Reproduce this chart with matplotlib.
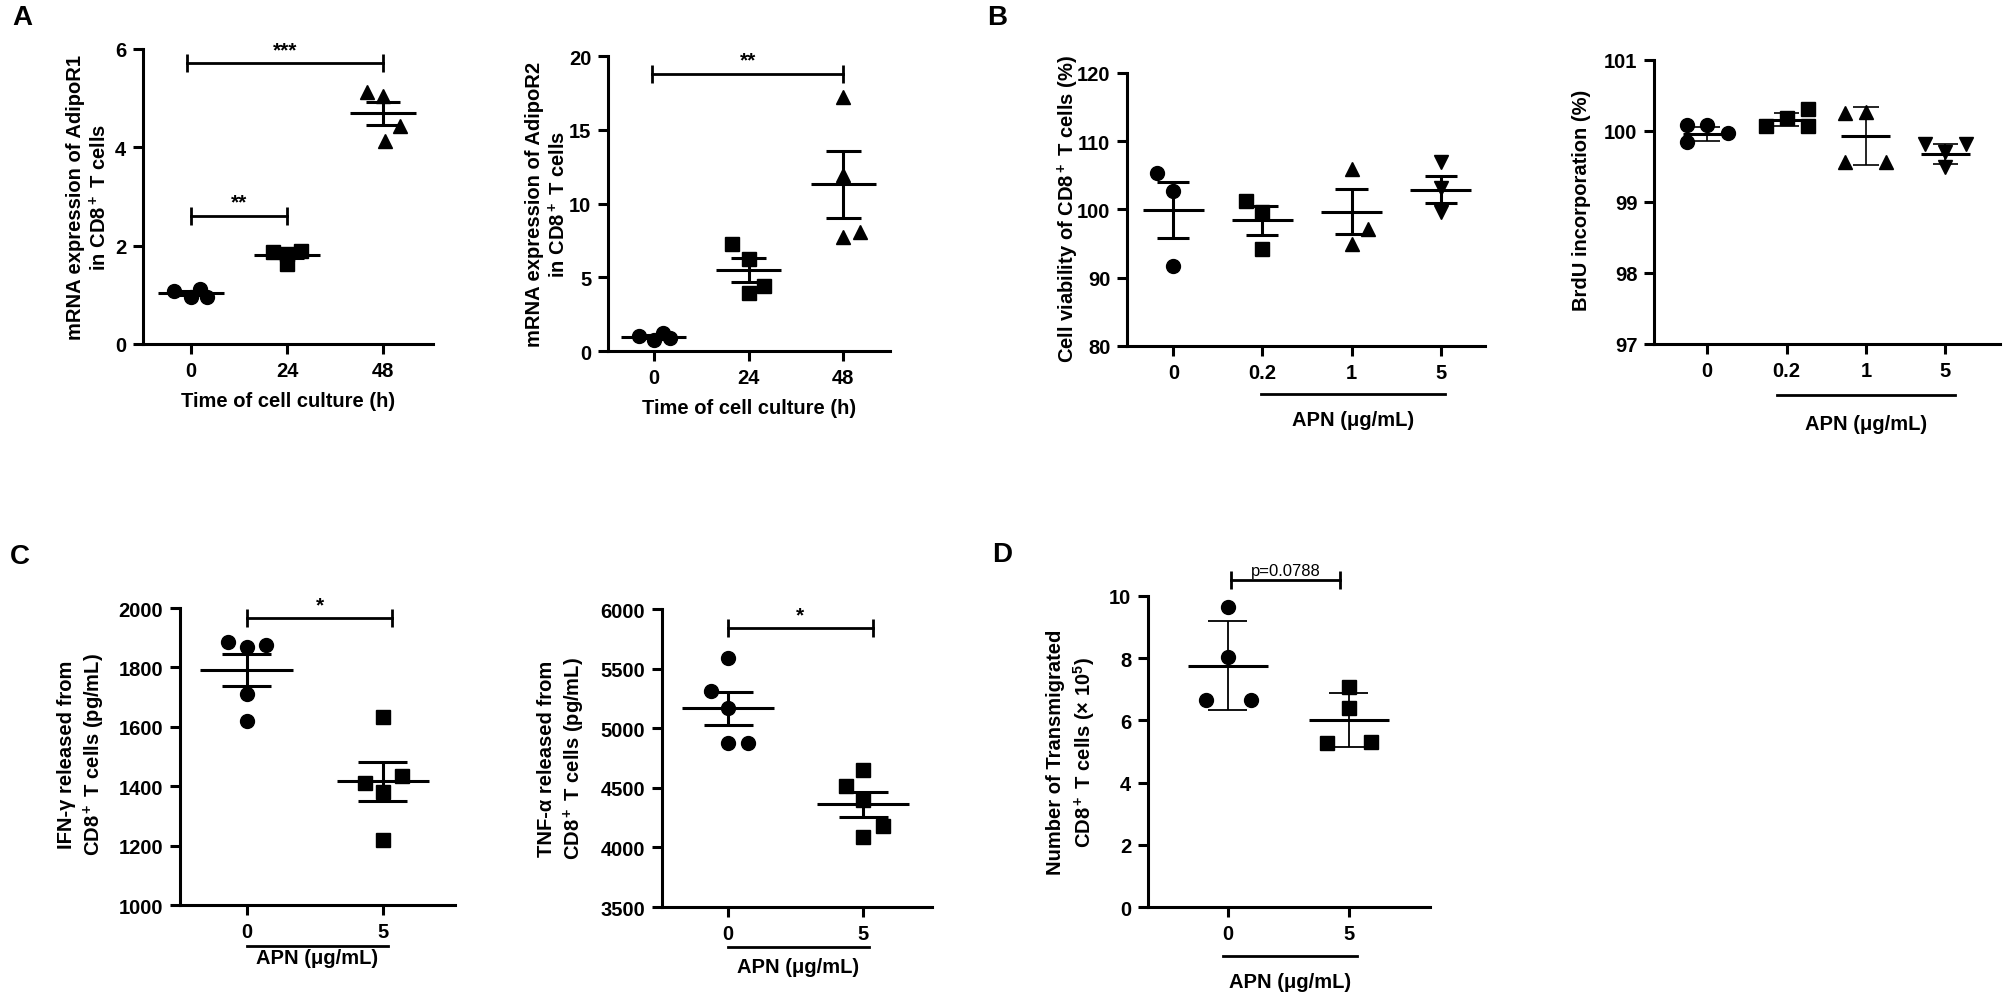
import matplotlib.pyplot as plt
from matplotlib.transforms import blended_transform_factory

plt.rcParams['font.family'] = ['Liberation Sans', 'DejaVu Sans']
plt.rcParams['font.weight'] = 'bold'
plt.rcParams['mathtext.fontset'] = 'custom'
plt.rcParams['mathtext.rm'] = 'Liberation Sans:bold'
plt.rcParams['mathtext.it'] = 'Liberation Sans:italic:bold'
plt.rcParams['mathtext.bf'] = 'Liberation Sans:bold'

# ---- data ----
# A: AdipoR1 / AdipoR2 mRNA over culture time
a_ticks = ['0', '24', '48']
a1_x = [[-0.18, 0, 0.09, 0.17], [-0.15, 0, 0, 0.15], [-0.17, 0, 0.18, 0.02]]
a1_y = [[1.08, 0.95, 1.12, 0.95], [1.88, 1.83, 1.63, 1.90], [5.12, 5.04, 4.44, 4.13]]
a1_mean = [1.03, 1.81, 4.69]
a1_err = [0.04, 0.06, 0.23]

a2_x = [[-0.15, 0, 0.10, 0.17], [-0.17, 0, 0, 0.16], [0, 0, 0, 0.17]]
a2_y = [[1.02, 0.75, 1.24, 0.86], [7.23, 6.26, 3.95, 4.41], [17.2, 11.9, 7.7, 8.1]]
a2_mean = [0.97, 5.5, 11.3]
a2_err = [0.1, 0.8, 2.25]

# B: viability and BrdU with APN doses
b_ticks = ['0', '0.2', '1', '5']
b1_x = [[-0.18, 0, 0], [-0.18, 0, 0], [0, 0.18, 0], [0, 0, 0]]
b1_y = [[105.3, 102.7, 91.7], [101.3, 99.6, 94.2], [105.9, 97.1, 94.9], [106.9, 103.2, 99.6]]
b1_mean = [99.95, 98.4, 99.66, 102.9]
b1_err = [4.15, 2.1, 3.3, 2.0]

b2_x = [[-0.25, -0.25, 0, 0.26], [-0.26, 0, 0.27, 0.27], [-0.26, 0, -0.26, 0.26], [-0.26, 0, 0.26, 0]]
b2_y = [[100.08, 99.85, 100.08, 99.97], [100.07, 100.18, 100.31, 100.07],
        [100.25, 100.26, 99.56, 99.56], [99.81, 99.71, 99.81, 99.49]]
b2_mean = [99.96, 100.16, 99.93, 99.67]
b2_err = [0.10, 0.09, 0.41, 0.14]

# C: cytokine release
c_ticks = ['0', '5']
c1_x = [[-0.14, 0, 0.14, 0, 0], [0, -0.13, 0.14, 0, 0]]
c1_y = [[1887, 1868, 1876, 1711, 1619], [1632, 1411, 1435, 1381, 1219]]
c1_mean = [1792, 1417]
c1_err = [53, 66]

c2_x = [[0, -0.13, 0, 0, 0.15], [0, -0.13, 0, 0.15, 0]]
c2_y = [[5586, 5314, 5169, 4876, 4876], [4649, 4512, 4398, 4177, 4085]]
c2_mean = [5169, 4364]
c2_err = [139, 105]

# D: transmigration
d_x = [[0, 0, -0.18, 0.19], [0, 0, -0.18, 0.18]]
d_y = [[9.65, 8.04, 6.65, 6.65], [7.06, 6.39, 5.26, 5.29]]
d_mean = [7.75, 6.01]
d_err = [1.43, 0.87]

TICK_FS = 14.5
LAB_FS = 14.5


def scatter_panel(ax, xs, ys, means, errs, markers, mean_w=0.34, cap_w=0.18,
                  err_lw=2.2, ms=10):
    for i in range(len(means)):
        ax.plot([i + dx for dx in xs[i]], ys[i], ls='none', marker=markers[i],
                color='black', ms=ms, zorder=3)
        ax.hlines(means[i], i - mean_w, i + mean_w, color='black', lw=2.2, zorder=4)
        lo, hi = means[i] - errs[i], means[i] + errs[i]
        ax.vlines(i, lo, hi, color='black', lw=err_lw, zorder=4)
        ax.hlines([lo, hi], i - cap_w, i + cap_w, color='black', lw=err_lw, zorder=4)


def style_axes(ax, ticks, xlim, ylim, yticks):
    for s in ['top', 'right']:
        ax.spines[s].set_visible(False)
    for s in ['left', 'bottom']:
        ax.spines[s].set_linewidth(2.2)
    ax.set_xlim(*xlim)
    ax.set_ylim(*ylim)
    ax.set_xticks(range(len(ticks)))
    ax.set_xticklabels(ticks)
    ax.set_yticks(yticks)
    ax.tick_params(direction='out', length=7, width=2.2, labelsize=TICK_FS, pad=5)
    for t in ax.get_xticklabels() + ax.get_yticklabels():
        t.set_fontweight('bold')


def bracket(ax, x0, x1, y, text, fs=15, weight='bold', dy=3):
    ax.plot([x0, x1], [y, y], color='black', lw=2, marker='|', ms=13, mew=2,
            clip_on=False)
    ax.annotate(text, xy=((x0 + x1) / 2, y), xytext=(0, dy), textcoords='offset points',
                ha='center', va='bottom', fontsize=fs, fontweight=weight,
                annotation_clip=False)


def apn_line(ax, x0, x1, y_line, y_text):
    tr = blended_transform_factory(ax.transData, ax.transAxes)
    ax.plot([x0, x1], [y_line, y_line], color='black', lw=2, transform=tr, clip_on=False)
    ax.text((x0 + x1) / 2, y_text, 'APN (\u03bcg/mL)', transform=tr, ha='center',
            va='center', fontsize=LAB_FS, fontweight='bold')


fig = plt.figure(figsize=(20.08, 10.04), dpi=100)

# ---- A1 ----
ax = fig.add_axes([0.0712, 0.6564, 0.1444, 0.2938])
scatter_panel(ax, a1_x, a1_y, a1_mean, a1_err, ['o', 's', '^'])
style_axes(ax, a_ticks, (-0.5, 2.52), (0, 6), [0, 2, 4, 6])
ax.set_ylabel('mRNA expression of AdipoR1\nin CD8$^+$ T cells', fontsize=LAB_FS,
              fontweight='bold', va='center', linespacing=1.25)
ax.yaxis.set_label_coords(-0.19, 0.5)
ax.set_xlabel('Time of cell culture (h)', fontsize=LAB_FS, fontweight='bold', va='center')
ax.xaxis.set_label_coords(0.5, -0.19)
bracket(ax, -0.04, 2.0, 5.71, '***')
bracket(ax, 0, 1, 2.61, '**')

# ---- A2 ----
ax = fig.add_axes([0.3028, 0.6494, 0.1404, 0.2938])
scatter_panel(ax, a2_x, a2_y, a2_mean, a2_err, ['o', 's', '^'])
style_axes(ax, a_ticks, (-0.48, 2.49), (0, 20), [0, 5, 10, 15, 20])
ax.set_ylabel('mRNA expression of AdipoR2\nin CD8$^+$ T cells', fontsize=LAB_FS,
              fontweight='bold', va='center', linespacing=1.25)
ax.yaxis.set_label_coords(-0.216, 0.5)
ax.set_xlabel('Time of cell culture (h)', fontsize=LAB_FS, fontweight='bold', va='center')
ax.xaxis.set_label_coords(0.5, -0.19)
bracket(ax, -0.02, 2.0, 18.8, '**')

# ---- B1 ----
ax = fig.add_axes([0.5613, 0.6544, 0.1783, 0.2719])
scatter_panel(ax, b1_x, b1_y, b1_mean, b1_err, ['o', 's', '^', 'v'])
style_axes(ax, b_ticks, (-0.52, 3.5), (80, 120), [80, 90, 100, 110, 120])
ax.set_ylabel('Cell viability of CD8$^+$ T cells (%)', fontsize=LAB_FS,
              fontweight='bold', va='center')
ax.yaxis.set_label_coords(-0.165, 0.505)
apn_line(ax, 0.98, 3.05, -0.176, -0.27)

# ---- B2 ----
ax = fig.add_axes([0.8237, 0.6564, 0.1723, 0.2829])
scatter_panel(ax, b2_x, b2_y, b2_mean, b2_err, ['o', 's', '^', 'v'],
              mean_w=0.31, cap_w=0.16, err_lw=1.2)
style_axes(ax, b_ticks, (-0.67, 3.69), (97, 101), [97, 98, 99, 100, 101])
ax.set_ylabel('BrdU incorporation (%)', fontsize=LAB_FS, fontweight='bold', va='center')
ax.yaxis.set_label_coords(-0.21, 0.51)
apn_line(ax, 0.88, 3.12, -0.18, -0.28)

# ---- C1 ----
ax = fig.add_axes([0.0896, 0.0976, 0.137, 0.2958])
scatter_panel(ax, c1_x, c1_y, c1_mean, c1_err, ['o', 's'])
style_axes(ax, c_ticks, (-0.49, 1.53), (1000, 2000), range(1000, 2001, 200))
ax.set_ylabel('IFN-\u03b3 released from\nCD8$^+$ T cells (pg/mL)', fontsize=LAB_FS,
              fontweight='bold', va='center', linespacing=1.3)
ax.yaxis.set_label_coords(-0.356, 0.51)
bracket(ax, 0, 1.07, 1966, '*')
apn_line(ax, 0, 1.04, -0.138, -0.178)

# ---- C2 ----
ax = fig.add_axes([0.3297, 0.0956, 0.1345, 0.2968])
scatter_panel(ax, c2_x, c2_y, c2_mean, c2_err, ['o', 's'])
style_axes(ax, c_ticks, (-0.49, 1.51), (3500, 6000), range(3500, 6001, 500))
ax.set_ylabel('TNF-\u03b1 released from\nCD8$^+$ T cells (pg/mL)', fontsize=LAB_FS,
              fontweight='bold', va='center', linespacing=1.3)
ax.yaxis.set_label_coords(-0.37, 0.50)
bracket(ax, 0, 1.07, 5838, '*')
apn_line(ax, 0, 1.04, -0.134, -0.20)

# ---- D ----
ax = fig.add_axes([0.5717, 0.0956, 0.1404, 0.3098])
scatter_panel(ax, d_x, d_y, d_mean, d_err, ['o', 's'],
              mean_w=0.33, cap_w=0.16, err_lw=1.3)
style_axes(ax, c_ticks, (-0.66, 1.67), (0, 10), [0, 2, 4, 6, 8, 10])
ax.set_ylabel('Number of Transmigrated\nCD8$^+$ T cells ($\\times$ 10$^5$)', fontsize=LAB_FS,
              fontweight='bold', va='center', linespacing=1.3)
ax.yaxis.set_label_coords(-0.27, 0.50)
bracket(ax, 0.03, 0.93, 10.5, 'p=0.0788', fs=12, weight='normal', dy=2)
apn_line(ax, -0.04, 1.07, -0.158, -0.24)

# panel letters
for letter, x, y in [('A', 12, 18), ('B', 987, 18), ('C', 10, 557), ('D', 992, 555)]:
    fig.text(x / 2008, 1 - y / 1004, letter, fontsize=20, fontweight='bold',
             ha='left', va='center')

fig.savefig('out.png', dpi=100)
